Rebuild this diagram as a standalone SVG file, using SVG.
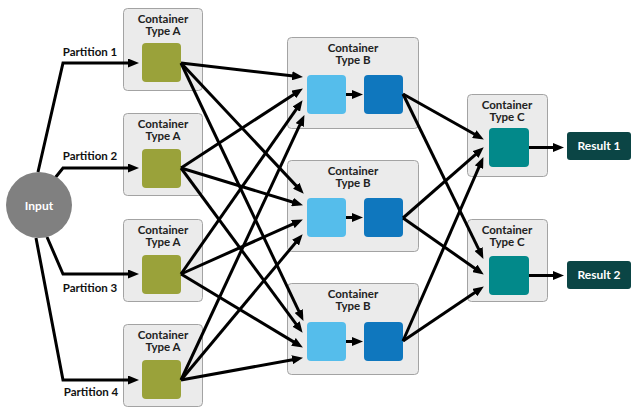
<svg xmlns="http://www.w3.org/2000/svg" width="632" height="415" viewBox="0 0 632 415">
<style>
.box{fill:#ebebeb;stroke:#a3a3a3;stroke-width:1}
.ga{fill:#9aa23a}
.lb{fill:#55bdeb}
.db{fill:#0f77be}
.tc{fill:#02898a}
.res{fill:#0b4545}
.t{font-family:Lato,"Liberation Sans",sans-serif;font-weight:700;font-size:11.5px;fill:#222;text-anchor:middle}
.w{fill:#fff;font-size:12px}
.l{font-family:Lato,"Liberation Sans",sans-serif;font-weight:700;font-size:11.5px;fill:#111;text-anchor:middle}
.c line,.c polyline{stroke:#000;stroke-width:3;fill:none;marker-end:url(#ah)}
</style>
<defs>
<marker id="ah" markerUnits="userSpaceOnUse" markerWidth="11" markerHeight="9" refX="6" refY="4.5" orient="auto">
<path d="M0,0 L11,4.5 L0,9 z" fill="#000"/>
</marker>
</defs>
<rect width="632" height="415" fill="#fff"/>

<g id="containerA1"><rect class="box" x="123.5" y="8.5" width="79" height="82" rx="4"/><text class="t" x="163" y="23">Container</text><text class="t" x="163" y="35">Type A</text><rect class="ga" x="142" y="43" width="39" height="39" rx="4"/></g>
<g id="containerA2"><rect class="box" x="123.5" y="113.5" width="79" height="82" rx="4"/><text class="t" x="163" y="128">Container</text><text class="t" x="163" y="140">Type A</text><rect class="ga" x="142" y="149" width="39" height="39" rx="4"/></g>
<g id="containerA3"><rect class="box" x="123.5" y="219.5" width="79" height="82" rx="4"/><text class="t" x="163" y="234">Container</text><text class="t" x="163" y="246">Type A</text><rect class="ga" x="142" y="255" width="39" height="39" rx="4"/></g>
<g id="containerA4"><rect class="box" x="123.5" y="324.5" width="79" height="82" rx="4"/><text class="t" x="163" y="339">Container</text><text class="t" x="163" y="351">Type A</text><rect class="ga" x="142" y="360" width="39" height="39" rx="4"/></g>

<g id="containerB1"><rect class="box" x="287.5" y="37.5" width="131" height="91" rx="4"/><text class="t" x="353" y="52">Container</text><text class="t" x="353" y="63.5">Type B</text><rect class="lb" x="307" y="75" width="39" height="39" rx="4"/><rect class="db" x="364" y="75" width="39" height="39" rx="4"/></g>
<g id="containerB2"><rect class="box" x="287.5" y="160.5" width="131" height="91" rx="4"/><text class="t" x="353" y="175">Container</text><text class="t" x="353" y="186.5">Type B</text><rect class="lb" x="307" y="198" width="39" height="39" rx="4"/><rect class="db" x="364" y="198" width="39" height="39" rx="4"/></g>
<g id="containerB3"><rect class="box" x="287.5" y="283.5" width="131" height="91" rx="4"/><text class="t" x="353" y="298">Container</text><text class="t" x="353" y="309.5">Type B</text><rect class="lb" x="307" y="322" width="39" height="39" rx="4"/><rect class="db" x="364" y="322" width="39" height="39" rx="4"/></g>

<g id="containerC1"><rect class="box" x="467.5" y="94.5" width="80" height="82" rx="4"/><text class="t" x="507" y="109">Container</text><text class="t" x="507" y="120.5">Type C</text><rect class="tc" x="489" y="128" width="40" height="39" rx="4"/></g>
<g id="containerC2"><rect class="box" x="467.5" y="219.5" width="80" height="82" rx="4"/><text class="t" x="507" y="234">Container</text><text class="t" x="507" y="245.5">Type C</text><rect class="tc" x="489" y="256" width="40" height="39" rx="4"/></g>

<g id="result1"><rect class="res" x="567" y="132" width="64" height="28" rx="3"/><text class="t w" x="599" y="150">Result 1</text></g>
<g id="result2"><rect class="res" x="567" y="261" width="64" height="28" rx="3"/><text class="t w" x="599" y="279">Result 2</text></g>

<g id="connectors" class="c">
<polyline points="38,172 63,63 134,63"/>
<polyline points="55,178 63,168 134,168"/>
<polyline points="47,237 63,274 134,274"/>
<polyline points="36,238 63,380 134,380"/>
<line x1="181" y1="63" x2="298" y2="76.5"/>
<line x1="181" y1="63" x2="300.3" y2="190.1"/>
<line x1="181" y1="63" x2="301.3" y2="316.4"/>
<line x1="181" y1="168" x2="298.7" y2="91.2"/>
<line x1="181" y1="168" x2="298.2" y2="203.8"/>
<line x1="181" y1="168" x2="299.6" y2="328.8"/>
<line x1="181" y1="274" x2="299.7" y2="104.3"/>
<line x1="181" y1="274" x2="298.3" y2="221.6"/>
<line x1="181" y1="274" x2="298.6" y2="344.9"/>
<line x1="181" y1="380" x2="302.3" y2="119.6"/>
<line x1="181" y1="380" x2="299.4" y2="238.1"/>
<line x1="181" y1="380" x2="298.1" y2="358.7"/>
<line x1="346" y1="94.5" x2="358" y2="94.5"/>
<line x1="346" y1="217.5" x2="358" y2="217.5"/>
<line x1="346" y1="341.5" x2="358" y2="341.5"/>
<line x1="403" y1="94" x2="479.5" y2="137"/>
<line x1="403" y1="94" x2="481.2" y2="254.4"/>
<line x1="403" y1="218" x2="480" y2="150.6"/>
<line x1="403" y1="218" x2="479.7" y2="271.7"/>
<line x1="403" y1="341" x2="481.4" y2="161.7"/>
<line x1="403" y1="341" x2="479.7" y2="289.2"/>
<line x1="529" y1="147.5" x2="559" y2="147.5"/>
<line x1="529" y1="275.5" x2="559" y2="275.5"/>
</g>

<g id="input"><circle cx="39" cy="205" r="33" fill="#808080"/><text class="t w" x="39" y="210">Input</text></g>

<g id="labels">
<text class="l" x="90" y="56">Partition 1</text>
<text class="l" x="90" y="160">Partition 2</text>
<text class="l" x="90" y="292">Partition 3</text>
<text class="l" x="91" y="396">Partition 4</text>
</g>
</svg>
